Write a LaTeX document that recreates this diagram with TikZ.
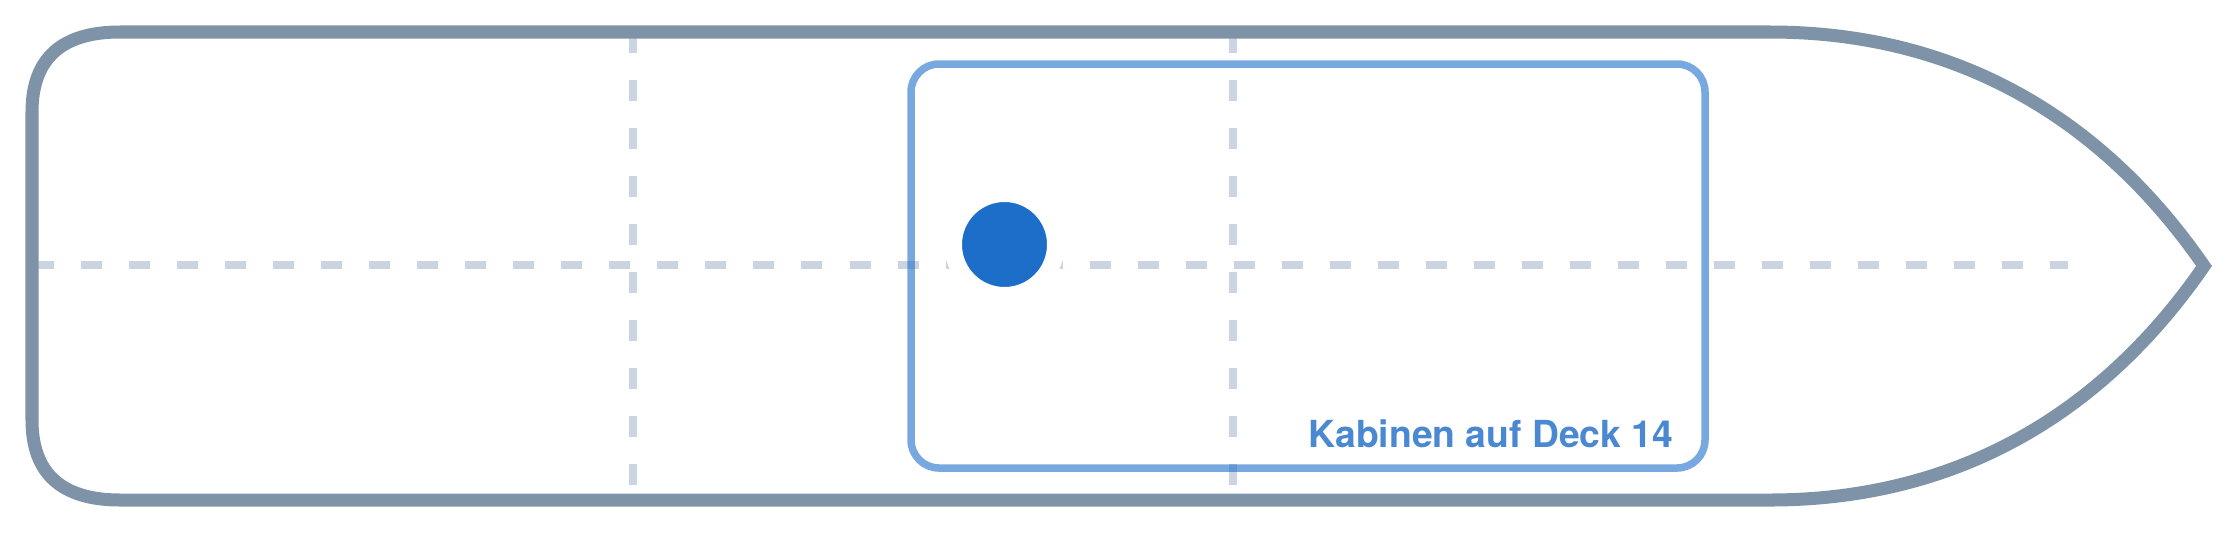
\documentclass[tikz,border=0pt]{standalone}
\usepackage{fontspec}
\setmainfont{TeX Gyre Heros}
\definecolor{hullgrey}{RGB}{127,147,168}
\definecolor{gridgrey}{RGB}{203,213,225}
\definecolor{seatblue}{RGB}{28,110,201}
\definecolor{decktext}{RGB}{74,136,210}
\tikzset{
	hull/.style={draw=hullgrey, line width=0.13cm},
	gridline/.style={draw=gridgrey, line width=0.08cm, dash pattern=on 0.21cm off 0.27cm},
	cabin/.style={draw=seatblue, draw opacity=0.6, line width=0.075cm, rounded corners=0.28cm},
	seat/.style={circle, fill=seatblue, draw=white, line width=0.175cm, minimum size=1.025cm, inner sep=0pt},
	decklabel/.style={text=decktext, font=\fontsize{10.6pt}{12pt}\selectfont\bfseries, inner sep=0pt}
}
\begin{document}
\begin{tikzpicture}[x=0.01cm, y=-0.01cm]
		\useasboundingbox (0,0) rectangle (2240,533);
		
		% mid lines
		\draw[gridline] (33,265) -- (2068,265);
		\draw[gridline] (633,32) -- (633,500);
		\draw[gridline] (1233,32) -- (1233,500);
		
		% hull
		\draw[hull] (120,32) -- (1770,32)
			.. controls (1945,32) and (2095,108) .. (2204,266)
			.. controls (2095,424) and (1945,500) .. (1770,500)
			-- (120,500)
			.. controls (61,500) and (32,473) .. (32,420)
			-- (32,112)
			.. controls (32,59) and (61,32) .. (120,32) -- cycle;
		
		% deck block
		\draw[cabin] (911,64) rectangle (1705,468);
		\node[decklabel, anchor=base east] (deck) at (1674,447) {Kabinen auf Deck 14};
		
		\node[seat] (cabin) at (1004.5,244.5) {};
	\end{tikzpicture}
\end{document}
